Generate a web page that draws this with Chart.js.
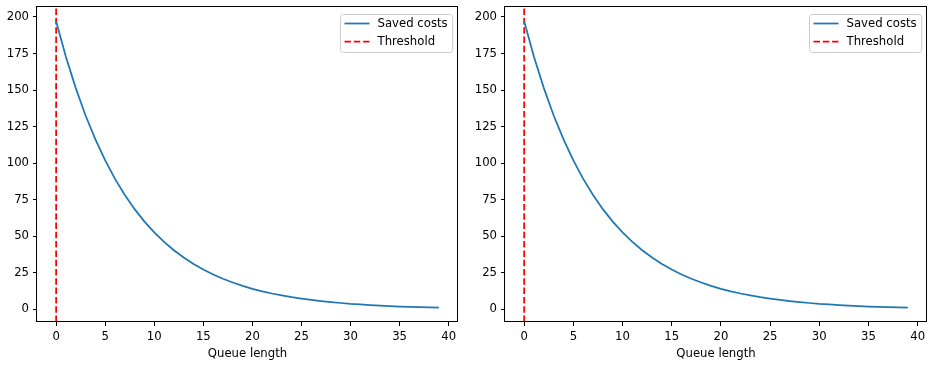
<!DOCTYPE html>
<html>
<head>
<meta charset="utf-8">
<script src="https://cdn.jsdelivr.net/npm/chart.js@4/dist/chart.umd.min.js"></script>
<style>
  html, body { margin: 0; padding: 0; background: #ffffff; }
  #wrap { position: relative; width: 933px; height: 390px; overflow: hidden; background: #fff; }
  canvas { position: absolute; top: 0; }
</style>
</head>
<body>
<div id="wrap">
  <canvas id="left" width="466" height="390" style="left:0px"></canvas>
  <canvas id="right" width="467" height="390" style="left:466px"></canvas>
</div>
<script>
// ---- data ----
const queueLength = [0,1,2,3,4,5,6,7,8,9,10,11,12,13,14,15,16,17,18,19,
                     20,21,22,23,24,25,26,27,28,29,30,31,32,33,34,35,36,37,38,39];
const savedCostsA = [197,172.6,151.3,132.6,116.2,101.8,89.2,78.2,68.5,60.0,
                     52.6,46.1,40.4,35.4,31.0,27.2,23.8,20.9,18.3,16.0,
                     14.0,12.3,10.8,9.5,8.3,7.3,6.4,5.6,4.9,4.3,
                     3.7,3.3,2.9,2.5,2.2,1.9,1.7,1.5,1.3,1.1];
const savedCostsB = [197,172.6,151.3,132.6,116.2,101.8,89.2,78.2,68.5,60.0,
                     52.6,46.1,40.4,35.4,31.0,27.2,23.8,20.9,18.3,16.0,
                     14.0,12.3,10.8,9.5,8.3,7.3,6.4,5.6,4.9,4.3,
                     3.7,3.3,2.9,2.5,2.2,1.9,1.7,1.5,1.3,1.1];
const thresholdA = 0;
const thresholdB = 0;
const xTicks = [0,5,10,15,20,25,30,35,40];
const yTicks = [0,25,50,75,100,125,150,175,200];
const xLimits = [-1.95, 40.95];
const yLimits = [-8.7, 206.8];
const seriesLabels = ['Saved costs', 'Threshold'];
const xTitle = 'Queue length';

const FONT = '"DejaVu Sans", "Liberation Sans", sans-serif';
const FS = 11.7;
const BLUE = '#1f77b4';
const RED = '#ff0000';

const framePlugin = {
  id: 'frame',
  afterDraw(chart) {
    const ctx = chart.ctx;
    const a = chart.chartArea;
    ctx.save();
    // spines
    ctx.strokeStyle = '#000';
    ctx.lineWidth = 1;
    ctx.strokeRect(a.left - 0.5, a.top - 0.5, a.right - a.left, a.bottom - a.top);
    // legend
    ctx.font = FS + 'px ' + FONT;
    const tw = Math.max(...seriesLabels.map(l => ctx.measureText(l).width));
    const w = 37 + tw + 5, h = 38;
    const bx = Math.round(a.right - 6 - w) + 0.5, by = Math.round(a.top + 7) + 0.5;
    ctx.beginPath();
    if (ctx.roundRect) ctx.roundRect(bx, by, w, h, 3); else ctx.rect(bx, by, w, h);
    ctx.fillStyle = 'rgba(255,255,255,0.8)';
    ctx.fill();
    ctx.strokeStyle = '#cccccc';
    ctx.lineWidth = 1;
    ctx.stroke();
    chart.data.datasets.forEach((ds, i) => {
      const cy = by + 9 + i * 18;
      ctx.beginPath();
      ctx.setLineDash(ds.borderDash || []);
      ctx.strokeStyle = ds.borderColor;
      ctx.lineWidth = ds.borderWidth;
      ctx.moveTo(bx + 4, cy);
      ctx.lineTo(bx + 29, cy);
      ctx.stroke();
      ctx.setLineDash([]);
      ctx.fillStyle = '#000';
      ctx.textBaseline = 'middle';
      ctx.textAlign = 'left';
      ctx.fillText(ds.label, bx + 37, cy);
    });
    ctx.restore();
  }
};

function makeChart(id, costs, threshold, yAxisWidth, padRight) {
  const lineData = queueLength.map((q, i) => ({x: q, y: costs[i]}));
  const thrData = [{x: threshold, y: yLimits[0]}, {x: threshold, y: yLimits[1]}];
  return new Chart(document.getElementById(id), {
    type: 'line',
    data: {
      datasets: [
        { label: seriesLabels[0], data: lineData, borderColor: BLUE, borderWidth: 1.75,
          pointRadius: 0, tension: 0, fill: false },
        { label: seriesLabels[1], data: thrData, borderColor: RED, borderWidth: 1.75,
          borderDash: [6.5, 2.8], pointRadius: 0, fill: false }
      ]
    },
    options: {
      responsive: false,
      maintainAspectRatio: false,
      animation: false,
      devicePixelRatio: 1,
      layout: { padding: { top: 7, right: padRight, left: 0, bottom: 0 } },
      plugins: { legend: { display: false }, tooltip: { enabled: false } },
      scales: {
        x: {
          type: 'linear', min: xLimits[0], max: xLimits[1],
          afterBuildTicks: s => { s.ticks = xTicks.map(v => ({value: v})); },
          afterFit: s => { s.height = 68; s.paddingLeft = 0; s.paddingRight = 0; },
          grid: { display: true, drawOnChartArea: false, drawTicks: true, tickLength: 4,
                  tickColor: '#000', tickWidth: 1 },
          border: { display: false },
          ticks: { color: '#000', font: { family: FONT, size: FS }, padding: 4,
                   maxRotation: 0, autoSkip: false, callback: v => String(v) },
          title: { display: true, text: xTitle, color: '#000',
                   font: { family: FONT, size: FS }, padding: { top: 0, bottom: 29 } }
        },
        y: {
          type: 'linear', min: yLimits[0], max: yLimits[1],
          afterBuildTicks: s => { s.ticks = yTicks.map(v => ({value: v})); },
          afterFit: s => { s.width = yAxisWidth; s.paddingTop = 0; s.paddingBottom = 0; },
          grid: { display: true, drawOnChartArea: false, drawTicks: true, tickLength: 4,
                  tickColor: '#000', tickWidth: 1 },
          border: { display: false },
          ticks: { color: '#000', font: { family: FONT, size: FS }, padding: 4,
                   autoSkip: false, callback: v => String(v) }
        }
      }
    },
    plugins: [framePlugin]
  });
}

makeChart('left', savedCostsA, thresholdA, 37, 8);
makeChart('right', savedCostsB, thresholdB, 39, 6);
</script>
</body>
</html>
